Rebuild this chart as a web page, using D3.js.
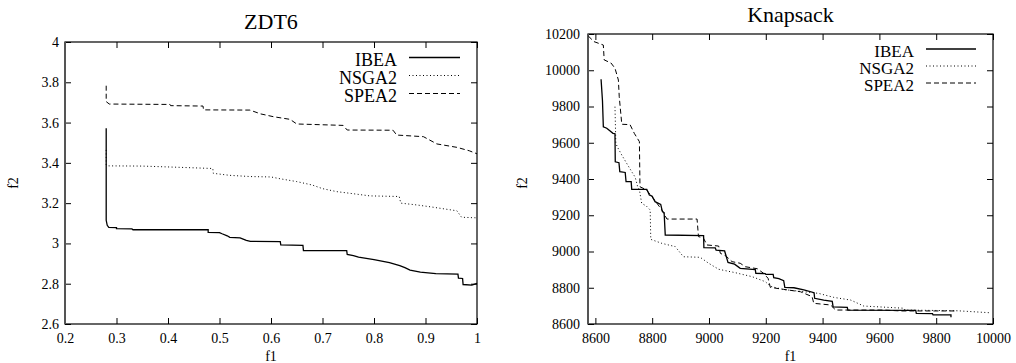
<!DOCTYPE html>
<html>
<head>
<meta charset="utf-8">
<script src="https://cdn.jsdelivr.net/npm/d3@7"></script>
<style>
  body { margin: 0; background: #fff; }
  svg { display: block; }
  svg text { font-family: "Liberation Serif", "Times New Roman", serif; fill: #000; }
</style>
</head>
<body>
<div id="chart"></div>
<script>
// ---- data ----
const seriesNames = ["IBEA", "NSGA2", "SPEA2"];

const zdt6XTicks = [0.2, 0.3, 0.4, 0.5, 0.6, 0.7, 0.8, 0.9, 1];
const zdt6YTicks = [2.6, 2.8, 3, 3.2, 3.4, 3.6, 3.8, 4];

const zdt6IBEA = [
  [0.28, 3.572], [0.28, 3.115], [0.282, 3.09], [0.285, 3.08], [0.30, 3.078], [0.30, 3.073],
  [0.33, 3.072], [0.332, 3.068], [0.478, 3.068], [0.478, 3.055], [0.50, 3.054], [0.505, 3.048],
  [0.515, 3.038], [0.52, 3.03], [0.54, 3.028], [0.552, 3.015], [0.56, 3.01], [0.618, 3.009],
  [0.619, 2.993], [0.662, 2.99], [0.663, 2.964], [0.747, 2.964], [0.748, 2.945], [0.76, 2.94],
  [0.77, 2.932], [0.80, 2.92], [0.83, 2.905], [0.85, 2.89], [0.86, 2.88], [0.87, 2.868],
  [0.89, 2.858], [0.92, 2.85], [0.963, 2.848], [0.964, 2.828], [0.972, 2.826], [0.973, 2.796],
  [0.99, 2.793], [1.0, 2.802]
];
const zdt6NSGA2 = [
  [0.28, 3.464], [0.28, 3.39], [0.285, 3.385], [0.35, 3.384], [0.42, 3.378], [0.487, 3.372],
  [0.488, 3.348], [0.52, 3.338], [0.56, 3.332], [0.60, 3.33], [0.62, 3.32], [0.65, 3.307],
  [0.68, 3.29], [0.70, 3.272], [0.728, 3.257], [0.75, 3.25], [0.792, 3.236], [0.849, 3.233],
  [0.852, 3.2], [0.88, 3.192], [0.909, 3.182], [0.94, 3.17], [0.961, 3.162], [0.97, 3.13],
  [1.0, 3.127]
];
const zdt6SPEA2 = [
  [0.28, 3.783], [0.28, 3.704], [0.286, 3.692], [0.404, 3.69], [0.405, 3.684], [0.468, 3.682],
  [0.469, 3.663], [0.559, 3.662], [0.58, 3.643], [0.605, 3.629], [0.637, 3.616], [0.65, 3.593],
  [0.74, 3.586], [0.748, 3.563], [0.837, 3.562], [0.844, 3.538], [0.896, 3.53], [0.922, 3.494],
  [0.961, 3.477], [0.985, 3.46], [1.0, 3.445]
];

const knapXTicks = [8600, 8800, 9000, 9200, 9400, 9600, 9800, 10000];
const knapYTicks = [8600, 8800, 9000, 9200, 9400, 9600, 9800, 10000, 10200];

const knapIBEA = [
  [8620, 9950], [8625, 9830], [8628, 9688], [8640, 9680], [8662, 9652], [8669, 9650],
  [8670, 9495], [8683, 9490], [8686, 9440], [8705, 9436], [8708, 9385], [8726, 9385],
  [8728, 9343], [8781, 9343], [8790, 9312], [8800, 9305], [8810, 9275], [8830, 9260],
  [8836, 9220], [8842, 9215], [8846, 9091], [8981, 9088], [8982, 9021], [9022, 9020],
  [9025, 9008], [9055, 9003], [9067, 8940], [9090, 8930], [9110, 8907], [9163, 8900],
  [9165, 8880], [9198, 8878], [9200, 8874], [9226, 8874], [9228, 8856], [9246, 8850],
  [9263, 8839], [9267, 8802], [9299, 8800], [9334, 8788], [9370, 8773], [9372, 8742],
  [9404, 8732], [9434, 8725], [9437, 8695], [9487, 8692], [9489, 8677], [9728, 8675],
  [9730, 8659], [9787, 8657], [9789, 8650], [9852, 8650], [9852, 8637]
];
const knapNSGA2 = [
  [8669, 9799], [8672, 9597], [8678, 9575], [8693, 9532], [8710, 9487], [8728, 9440],
  [8740, 9410], [8749, 9357], [8755, 9340], [8763, 9266], [8780, 9250], [8793, 9229],
  [8795, 9067], [8834, 9045], [8881, 9027], [8910, 8971], [8969, 8968], [8999, 8935],
  [9034, 8902], [9093, 8883], [9152, 8861], [9199, 8833], [9216, 8808], [9263, 8790],
  [9334, 8778], [9386, 8769], [9439, 8747], [9499, 8732], [9545, 8699], [9687, 8687],
  [9690, 8677], [9875, 8673], [9990, 8662]
];
const knapSPEA2 = [
  [8575, 10189], [8595, 10158], [8628, 10139], [8631, 10057], [8655, 10040], [8669, 10011],
  [8681, 9946], [8684, 9854], [8693, 9702], [8722, 9700], [8737, 9652], [8755, 9606],
  [8757, 9357], [8780, 9340], [8799, 9302], [8815, 9270], [8834, 9229], [8852, 9179],
  [8958, 9179], [8963, 9082], [8980, 9075], [8993, 9036], [9034, 9030], [9040, 8990],
  [9060, 8975], [9081, 8944], [9110, 8935], [9128, 8916], [9170, 8905], [9192, 8880],
  [9208, 8852], [9216, 8802], [9263, 8791], [9322, 8778], [9363, 8751], [9369, 8714],
  [9428, 8705], [9446, 8677], [9616, 8677], [9675, 8672], [9875, 8672]
];

const panels = [
  {
    title: "ZDT6", series: [zdt6IBEA, zdt6NSGA2, zdt6SPEA2],
    xDomain: [0.2, 1], yDomain: [2.6, 4], xTicks: zdt6XTicks, yTicks: zdt6YTicks,
    left: 65, right: 477, top: 42, bottom: 324, titleY: 29, yLabelX: 18, yPad: 6,
    legendX: 397, legendLine: [409, 460], legendY: [65.5, 83.5, 101.5], legendFont: 18
  },
  {
    title: "Knapsack", series: [knapIBEA, knapNSGA2, knapSPEA2],
    xDomain: [8574, 10000], yDomain: [8600, 10200], xTicks: knapXTicks, yTicks: knapYTicks,
    left: 588, right: 993, top: 34, bottom: 324, titleY: 22, yLabelX: 527, yPad: 8,
    legendX: 914, legendLine: [926, 976], legendY: [57, 74, 91], legendFont: 17
  }
];

const dashes = [null, "1,2.5", "5,3"];

const svg = d3.select("#chart").append("svg")
  .attr("width", 1016)
  .attr("height", 363);

panels.forEach(function (p) {
  const g = svg.append("g");
  let xScale = d3.scaleLinear().domain(p.xDomain).range([p.left, p.right]);
  let yScale = d3.scaleLinear().domain(p.yDomain).range([p.bottom, p.top]);

  // inward ticks on all four sides, gnuplot style
  let xAxis = d3.axisBottom(xScale).tickValues(p.xTicks).tickSize(-6).tickSizeOuter(0)
    .tickPadding(9).tickFormat(d => String(d));
  g.append("g").attr("transform", `translate(0,${p.bottom})`).call(xAxis);
  g.append("g").attr("transform", `translate(0,${p.top})`)
    .call(d3.axisTop(xScale).tickValues(p.xTicks).tickSize(-6).tickSizeOuter(0).tickFormat(""));

  let yAxis = d3.axisLeft(yScale).tickValues(p.yTicks).tickSize(-6).tickSizeOuter(0)
    .tickPadding(p.yPad).tickFormat(d => String(d));
  g.append("g").attr("transform", `translate(${p.left},0)`).call(yAxis);
  g.append("g").attr("transform", `translate(${p.right},0)`)
    .call(d3.axisRight(yScale).tickValues(p.yTicks).tickSize(-6).tickSizeOuter(0).tickFormat(""));

  g.selectAll(".domain").remove();
  g.selectAll(".tick").select(function () { return this.parentNode; })
    .attr("font-family", null).attr("font-size", null);
  g.selectAll(".tick line").attr("stroke", "#000").attr("stroke-width", 1);
  g.selectAll(".tick text")
    .attr("fill", "#000")
    .style("font-size", "14px");

  // frame
  g.append("rect")
    .attr("x", p.left).attr("y", p.top)
    .attr("width", p.right - p.left).attr("height", p.bottom - p.top)
    .attr("fill", "none").attr("stroke", "#000").attr("stroke-width", 1.2);
  g.append("line")
    .attr("x1", p.left).attr("x2", p.left).attr("y1", p.top).attr("y2", p.bottom)
    .attr("stroke", "#555").attr("stroke-width", 2);

  const drawLine = d3.line()
    .x(d => xScale(d[0]))
    .y(d => yScale(d[1]));

  p.series.forEach(function (s, i) {
    g.append("path")
      .attr("d", drawLine(s))
      .attr("fill", "none")
      .attr("stroke", "#000")
      .attr("stroke-width", i === 0 ? 1.3 : 1)
      .attr("stroke-dasharray", dashes[i]);
  });

  // legend
  seriesNames.forEach(function (name, i) {
    g.append("text")
      .attr("x", p.legendX).attr("y", p.legendY[i])
      .attr("text-anchor", "end")
      .style("font-size", p.legendFont + "px")
      .text(name);
    g.append("line")
      .attr("x1", p.legendLine[0]).attr("x2", p.legendLine[1])
      .attr("y1", p.legendY[i] - 8).attr("y2", p.legendY[i] - 8)
      .attr("stroke", "#000")
      .attr("stroke-width", i === 0 ? 1.3 : 1)
      .attr("stroke-dasharray", dashes[i]);
  });

  g.append("text")
    .attr("x", (p.left + p.right) / 2).attr("y", p.titleY)
    .attr("text-anchor", "middle")
    .style("font-size", "22px")
    .text(p.title);

  g.append("text")
    .attr("x", (p.left + p.right) / 2).attr("y", 361)
    .attr("text-anchor", "middle")
    .style("font-size", "14px")
    .text("f1");

  g.append("text")
    .attr("transform", `translate(${p.yLabelX},183) rotate(-90)`)
    .attr("text-anchor", "middle")
    .style("font-size", "14px")
    .text("f2");
});
</script>
</body>
</html>
